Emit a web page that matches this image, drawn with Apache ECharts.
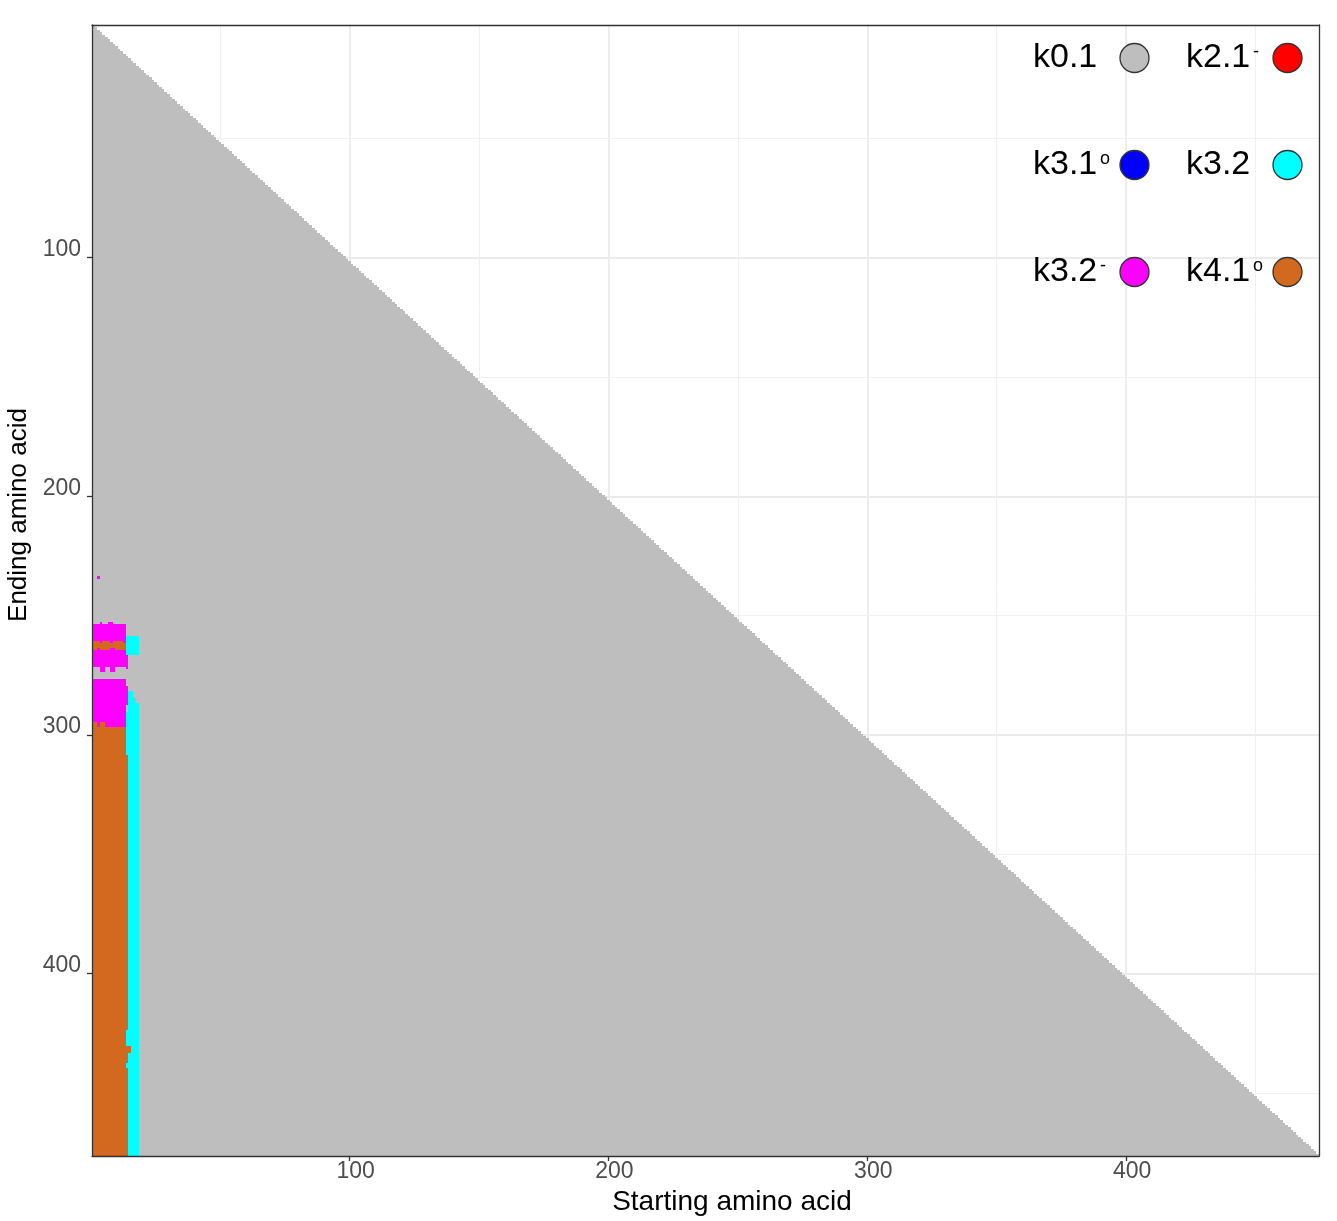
<!DOCTYPE html>
<html>
<head>
<meta charset="utf-8">
<script src="https://cdn.jsdelivr.net/npm/echarts@6/dist/echarts.min.js"></script>
<style>
  html, body { margin: 0; background: #fff; }
  #chart { width: 1337px; height: 1221px; }
</style>
</head>
<body>
<div id="chart"></div>
<script>
  // sequence limits: fragments start at 1..lastStart and end at start+minSpan..seqLength
  const seqLength = 476;
  const lastStart = 474;
  const minSpan = 2;

  const xTicks = [100, 200, 300, 400];
  const yTicks = [100, 200, 300, 400];
  const minorTicks = [50, 150, 250, 350, 450];

  const classNames = ['k0.1', 'k2.1-', 'k3.1o', 'k3.2', 'k3.2-', 'k4.1o'];
  const classColors = ['#BEBEBE', '#FF0000', '#0000FF', '#00FFFF', '#FF00FF', '#D2691E'];

  // cell blocks: [startFrom, startTo, endFrom, endTo]
  const k21Cells = [];
  const k31oCells = [];
  const k32mCells = [
    [3, 3, 234, 234],
    [4, 4, 253, 253], [7, 8, 253, 253],
    [1, 13, 254, 271],
    [14, 14, 267, 272],
    [4, 5, 272, 273], [8, 9, 272, 273],
    [1, 13, 277, 296],
    [14, 14, 280, 287]
  ];
  const k32Cells = [
    [14, 18, 259, 266],
    [15, 16, 282, 284],
    [15, 17, 285, 286],
    [15, 18, 287, 290],
    [14, 18, 291, 308],
    [15, 18, 309, 476],
    [14, 14, 424, 430],
    [14, 14, 438, 439]
  ];
  const k41oCells = [
    [1, 3, 261, 261], [5, 7, 261, 261], [9, 12, 261, 261],
    [1, 13, 262, 263],
    [1, 2, 264, 264], [4, 7, 264, 264], [10, 13, 264, 264],
    [1, 2, 295, 296], [4, 5, 295, 296],
    [1, 13, 297, 476],
    [14, 14, 309, 423],
    [14, 14, 431, 437],
    [15, 15, 431, 433],
    [14, 14, 440, 476]
  ];

  const k01Cells = [];
  for (let s = 1; s <= lastStart; s++) {
    k01Cells.push([s, s, s + minSpan, seqLength]);
  }

  const font = 'Liberation Sans';
  let myChart;

  // snap cell edges to whole pixels so neighbouring columns leave no seams
  const renderCell = (params, api) => {
    const a = api.coord([api.value(0) - 0.5, api.value(2) - 0.5]);
    const b = api.coord([api.value(1) + 0.5, api.value(3) + 0.5]);
    const x0 = Math.round(Math.min(a[0], b[0]));
    const x1 = Math.round(Math.max(a[0], b[0]));
    const y0 = Math.round(Math.min(a[1], b[1]));
    const y1 = Math.round(Math.max(a[1], b[1]));
    return {
      type: 'rect',
      shape: { x: x0, y: y0, width: Math.max(1, x1 - x0), height: Math.max(1, y1 - y0) },
      style: { fill: api.visual('color') }
    };
  };

  const cellSeries = (name, data) => ({
    name: name,
    type: 'custom',
    renderItem: renderCell,
    data: data,
    clip: true,
    z: 3,
    itemStyle: { color: classColors[classNames.indexOf(name)] },
    dimensions: ['s0', 's1', 'e0', 'e1'],
    encode: { x: [0, 1], y: [2, 3] },
    silent: true
  });

  const gridLines = () => {
    const major = { color: '#EBEBEB', width: 1.8, type: 'solid' };
    const minor = { color: '#EFEFEF', width: 0.9, type: 'solid' };
    const out = [];
    xTicks.forEach(v => out.push({ xAxis: v, lineStyle: major }));
    yTicks.forEach(v => out.push({ yAxis: v, lineStyle: major }));
    minorTicks.forEach(v => out.push({ xAxis: v, lineStyle: minor }));
    minorTicks.forEach(v => out.push({ yAxis: v, lineStyle: minor }));
    return out;
  };

  const legendBase = {
    orient: 'vertical',
    top: 41,
    padding: 0,
    align: 'right',
    icon: 'circle',
    itemWidth: 29,
    itemHeight: 29,
    itemGap: 73,
    itemStyle: { borderColor: '#333333', borderWidth: 1.3 },
    formatter: name => {
      const m = name.match(/^(.*?)([-o]?)$/);
      return '{a|' + m[1] + '}{s|' + (m[2] || ' ') + '}';
    },
    textStyle: {
      fontFamily: font,
      color: '#000',
      rich: {
        a: { fontFamily: font, fontSize: 34, lineHeight: 29, width: 67, align: 'left', color: '#000' },
        s: { fontFamily: font, fontSize: 18, lineHeight: 18, width: 15, align: 'left', verticalAlign: 'top', color: '#000' }
      }
    }
  };

  const getOption = () => {
    const axisText = { fontFamily: font, fontSize: 23, color: '#4D4D4D' };
    return {
      animation: false,
      backgroundColor: '#fff',
      grid: { left: 92, right: 18, top: 25, bottom: 65, outerBoundsMode: 'none', containLabel: false },
      legend: [
        Object.assign({}, legendBase, { left: 1033, data: ['k0.1', 'k3.1o', 'k3.2-'] }),
        Object.assign({}, legendBase, { left: 1186, data: ['k2.1-', 'k3.2', 'k4.1o'] })
      ],
      xAxis: [
        {
          type: 'value',
          min: 0.5,
          max: 474.5,
          z: 10,
          name: 'Starting amino acid',
          nameLocation: 'middle',
          nameGap: 28,
          nameTextStyle: { fontFamily: font, fontSize: 28, color: '#000', padding: [0, 0, 0, 53] },
          axisLine: { show: true, onZero: false, lineStyle: { color: '#333333', width: 1.3 } },
          axisTick: { show: true, length: 5, customValues: xTicks, lineStyle: { color: '#333333', width: 1.3 } },
          axisLabel: Object.assign({ margin: 4, padding: [0, 0, 0, 12], customValues: xTicks, formatter: v => (v % 100 === 0 ? String(v) : '') }, axisText),
          splitLine: { show: false }
        },
        {
          type: 'value', position: 'top', min: 0.5, max: 474.5, z: 10,
          axisLine: { show: true, onZero: false, lineStyle: { color: '#333333', width: 1.3 } },
          axisTick: { show: false }, axisLabel: { show: false }, splitLine: { show: false }
        }
      ],
      yAxis: [
        {
          type: 'value',
          inverse: true,
          min: 2.5,
          max: 476.5,
          z: 10,
          name: 'Ending amino acid',
          nameLocation: 'middle',
          nameGap: 59,
          nameTextStyle: { fontFamily: font, fontSize: 26, color: '#000', padding: [0, 0, 0, 151] },
          axisLine: { show: true, onZero: false, lineStyle: { color: '#333333', width: 1.3 } },
          axisTick: { show: true, length: 5, customValues: yTicks, lineStyle: { color: '#333333', width: 1.3 } },
          axisLabel: Object.assign({ margin: 11, verticalAlign: 'bottom', lineHeight: 16, customValues: yTicks, formatter: v => (v % 100 === 0 ? String(v) : '') }, axisText),
          splitLine: { show: false }
        },
        {
          type: 'value', position: 'right', inverse: true, min: 2.5, max: 476.5, z: 10,
          axisLine: { show: true, onZero: false, lineStyle: { color: '#333333', width: 1.3 } },
          axisTick: { show: false }, axisLabel: { show: false }, splitLine: { show: false }
        }
      ],
      series: [
        {
          type: 'line',
          data: [],
          z: 1,
          silent: true,
          markLine: { silent: true, symbol: 'none', z: 1, label: { show: false }, animation: false, data: gridLines() }
        },
        cellSeries('k0.1', k01Cells),
        cellSeries('k2.1-', k21Cells),
        cellSeries('k3.1o', k31oCells),
        cellSeries('k3.2-', k32mCells),
        cellSeries('k3.2', k32Cells),
        cellSeries('k4.1o', k41oCells)
      ]
    };
  };

  const resizeFunc = () => {
    if (myChart) myChart.resize();
  };

  myChart = echarts.init(document.getElementById('chart'));
  myChart.setOption(getOption());
  window.addEventListener('resize', resizeFunc);
</script>
</body>
</html>
